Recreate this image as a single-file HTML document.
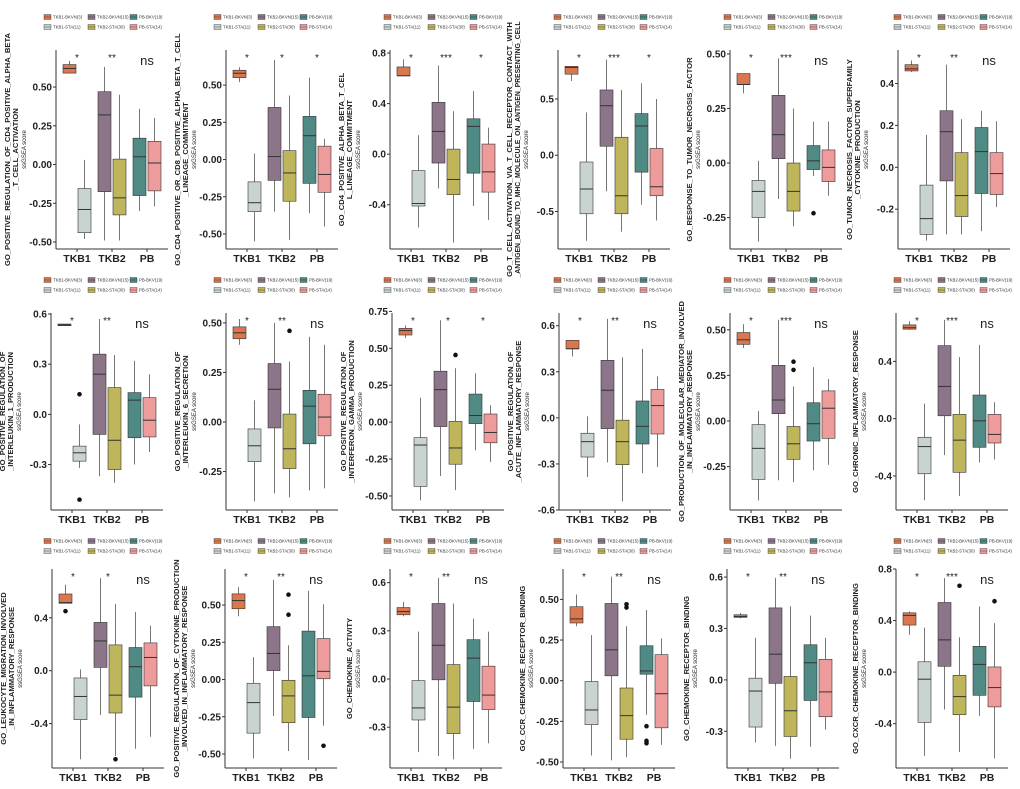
<!DOCTYPE html>
<html><head><meta charset="utf-8"><style>
html,body{margin:0;padding:0;background:#fff;}
svg{display:block;font-family:"Liberation Sans",sans-serif;}
</style></head><body>
<svg id="chart" width="1020" height="789" viewBox="0 0 1020 789" xmlns="http://www.w3.org/2000/svg"></svg>
<script>
const panelTitles = [
 ["GO_POSITIVE_REGULATION_OF_CD4_POSITIVE_ALPHA_BETA","_T_CELL_ACTIVATION"],
 ["GO_CD4_POSITIVE_OR_CD8_POSITIVE_ALPHA_BETA_T_CELL","_LINEAGE_COMMITMENT"],
 ["GO_CD4_POSITIVE_ALPHA_BETA_T_CEL","L_LINEAGE_COMMITMENT"],
 ["GO_T_CELL_ACTIVATION_VIA_T_CELL_RECEPTOR_CONTACT_WITH","_ANTIGEN_BOUND_TO_MHC_MOLECULE_ON_ANTIGEN_PRESENTING_CELL"],
 ["GO_RESPONSE_TO_TUMOR_NECROSIS_FACTOR"],
 ["GO_TUMOR_NECROSIS_FACTOR_SUPERFAMILY","_CYTOKINE_PRODUCTION"],
 ["GO_POSITIVE_REGULATION_OF","_INTERLEUKIN_1_PRODUCTION"],
 ["GO_POSITIVE_REGULATION_OF","_INTERLEUKIN_6_SECRETION"],
 ["GO_POSITIVE_REGULATION_OF","_INTERFERON_GAMMA_PRODUCTION"],
 ["GO_POSITIVE_REGULATION_OF","_ACUTE_INFLAMMATORY_RESPONSE"],
 ["GO_PRODUCTION_OF_MOLECULAR_MEDIATOR_INVOLVED","_IN_INFLAMMATORY_RESPONSE"],
 ["GO_CHRONIC_INFLAMMATORY_RESPONSE"],
 ["GO_LEUKOCYTE_MIGRATION_INVOLVED","_IN_INFLAMMATORY_RESPONSE"],
 ["GO_POSITIVE_REGULATION_OF_CYTOKINE_PRODUCTION","_INVOLVED_IN_INFLAMMATORY_RESPONSE"],
 ["GO_CHEMOKINE_ACTIVITY"],
 ["GO_CCR_CHEMOKINE_RECEPTOR_BINDING"],
 ["GO_CHEMOKINE_RECEPTOR_BINDING"],
 ["GO_CXCR_CHEMOKINE_RECEPTOR_BINDING"]
];
const panelTicks = [
 ["0.50","0.25","0.00","-0.25","-0.50"],
 ["0.50","0.25","0.00","-0.25","-0.50"],
 ["0.8","0.4","0.0","-0.4"],
 ["0.5","0.0","-0.5"],
 ["0.50","0.25","0.00","-0.25"],
 ["0.4","0.2","0.0","-0.2"],
 ["0.6","0.3","0.0","-0.3"],
 ["0.50","0.25","0.00","-0.25"],
 ["0.75","0.50","0.25","0.00","-0.25","-0.50"],
 ["0.6","0.3","0.0","-0.3","-0.6"],
 ["0.50","0.25","0.00","-0.25"],
 ["0.4","0.0","-0.4"],
 ["0.4","0.0","-0.4"],
 ["0.50","0.25","0.00","-0.25","-0.50"],
 ["0.6","0.3","0.0","-0.3"],
 ["0.50","0.25","0.00","-0.25","-0.50"],
 ["0.6","0.3","0.0","-0.3"],
 ["0.8","0.4","0.0","-0.4"]
];
const panelDomains = [
 [-0.545,0.739],[-0.601,0.736],[-0.75,0.824],[-0.833,0.935],[-0.394,0.518],[-0.39,0.56],
 [-0.572,0.606],[-0.444,0.55],[-0.595,0.739],[-0.6,0.683],[-0.488,0.592],[-0.638,0.738],
 [-0.736,0.769],[-0.594,0.742],[-0.554,0.685],[-0.537,0.687],[-0.514,0.647],[-0.744,0.8]
];
const sigLabels = [
 ["*","**","ns"],["*","*","*"],["*","***","*"],["*","***","*"],["*","***","ns"],["*","**","ns"],
 ["*","**","ns"],["*","**","ns"],["*","*","*"],["*","**","ns"],["*","***","ns"],["*","***","ns"],
 ["*","*","ns"],["*","**","ns"],["*","**","ns"],["*","**","ns"],["*","**","ns"],["*","***","ns"]
];
const categories = ["TKB1","TKB2","PB"];
const groupNames = ["TKB1-BKVN(3)","TKB1-STA(11)","TKB2-BKVN(15)","TKB2-STA(30)","PB-BKV(19)","PB-STA(14)"];
// stats per panel: 6 groups of [low whisker, q1, median, q3, high whisker]
const boxStats = [
 [[0.59,0.59,0.62,0.645,0.67],[-0.48,-0.44,-0.29,-0.155,0.03],[-0.49,-0.175,0.32,0.47,0.63],[-0.49,-0.325,-0.215,0.035,0.45],[-0.30,-0.20,0.05,0.17,0.36],[-0.27,-0.17,0.01,0.15,0.30]],
 [[0.52,0.55,0.58,0.60,0.62],[-0.55,-0.35,-0.29,-0.15,0.04],[-0.35,-0.14,0.02,0.35,0.67],[-0.54,-0.28,-0.09,0.06,0.43],[-0.36,-0.16,0.16,0.29,0.55],[-0.45,-0.22,-0.10,0.09,0.14]],
 [[0.62,0.62,0.62,0.69,0.75],[-0.58,-0.41,-0.39,-0.13,0.15],[-0.27,-0.07,0.18,0.41,0.70],[-0.70,-0.32,-0.20,0.04,0.34],[-0.41,-0.15,0.22,0.28,0.50],[-0.52,-0.30,-0.14,0.08,0.21]],
 [[0.66,0.72,0.78,0.79,0.79],[-0.76,-0.52,-0.30,-0.06,0.38],[-0.32,0.08,0.44,0.58,0.85],[-0.68,-0.52,-0.36,0.16,0.58],[-0.44,-0.15,0.26,0.37,0.64],[-0.58,-0.36,-0.28,0.06,0.50]],
 [[0.32,0.36,0.36,0.41,0.41],[-0.36,-0.25,-0.13,-0.08,0.01],[-0.165,0.02,0.13,0.31,0.48],[-0.29,-0.22,-0.13,0.00,0.25],[-0.06,-0.03,0.01,0.08,0.19],[-0.15,-0.085,-0.02,0.06,0.19]],
 [[0.455,0.46,0.47,0.49,0.51],[-0.35,-0.32,-0.245,-0.085,0.155],[-0.32,-0.065,0.17,0.27,0.49],[-0.32,-0.235,-0.135,0.07,0.23],[-0.305,-0.125,0.075,0.19,0.27],[-0.19,-0.13,-0.03,0.07,0.22]],
 [[0.53,0.53,0.535,0.54,0.54],[-0.32,-0.28,-0.23,-0.19,-0.06],[-0.37,-0.12,0.24,0.36,0.57],[-0.41,-0.33,-0.155,0.16,0.355],[-0.30,-0.14,0.085,0.13,0.32],[-0.225,-0.135,-0.035,0.10,0.24]],
 [[0.39,0.42,0.45,0.48,0.52],[-0.40,-0.20,-0.12,-0.035,0.11],[-0.36,-0.03,0.165,0.295,0.50],[-0.38,-0.235,-0.135,0.04,0.305],[-0.345,-0.11,0.08,0.16,0.43],[-0.335,-0.07,0.025,0.14,0.39]],
 [[0.57,0.59,0.62,0.635,0.655],[-0.53,-0.435,-0.155,-0.105,0.165],[-0.365,-0.03,0.22,0.345,0.69],[-0.46,-0.285,-0.175,0.005,0.365],[-0.19,-0.01,0.045,0.19,0.33],[-0.27,-0.14,-0.07,0.055,0.115]],
 [[0.40,0.45,0.45,0.505,0.505],[-0.385,-0.255,-0.155,-0.10,0.01],[-0.29,-0.07,0.18,0.375,0.645],[-0.545,-0.305,-0.155,-0.015,0.395],[-0.36,-0.17,-0.055,0.11,0.45],[-0.32,-0.105,0.08,0.185,0.27]],
 [[0.40,0.42,0.445,0.485,0.53],[-0.435,-0.32,-0.15,-0.02,0.055],[-0.325,0.04,0.115,0.305,0.555],[-0.335,-0.21,-0.125,-0.03,0.19],[-0.27,-0.11,-0.015,0.10,0.295],[-0.24,-0.095,0.07,0.165,0.23]],
 [[0.62,0.625,0.635,0.655,0.68],[-0.57,-0.385,-0.195,-0.13,0.105],[-0.255,0.02,0.225,0.51,0.69],[-0.54,-0.375,-0.15,0.03,0.43],[-0.305,-0.20,-0.015,0.165,0.515],[-0.285,-0.17,-0.11,0.03,0.115]],
 [[0.51,0.51,0.515,0.58,0.65],[-0.67,-0.37,-0.195,-0.055,0.01],[-0.335,0.025,0.225,0.365,0.70],[-0.645,-0.32,-0.185,0.195,0.505],[-0.59,-0.20,0.03,0.175,0.445],[-0.50,-0.115,0.10,0.21,0.34]],
 [[0.425,0.475,0.53,0.575,0.62],[-0.53,-0.36,-0.155,-0.025,0.15],[-0.245,0.06,0.175,0.355,0.67],[-0.48,-0.29,-0.11,-0.005,0.23],[-0.54,-0.255,0.025,0.325,0.595],[-0.31,0.005,0.055,0.275,0.505]],
 [[0.39,0.40,0.42,0.445,0.48],[-0.455,-0.255,-0.18,-0.01,0.295],[-0.48,-0.005,0.21,0.47,0.63],[-0.50,-0.34,-0.175,0.09,0.47],[-0.435,-0.14,0.13,0.245,0.375],[-0.40,-0.19,-0.10,0.08,0.295]],
 [[0.335,0.355,0.38,0.455,0.53],[-0.46,-0.27,-0.18,-0.005,0.28],[-0.49,0.03,0.19,0.475,0.64],[-0.47,-0.36,-0.215,-0.045,0.335],[-0.21,0.04,0.06,0.215,0.435],[-0.395,-0.29,-0.08,0.16,0.26]],
 [[0.36,0.365,0.37,0.38,0.39],[-0.365,-0.275,-0.065,0.01,0.245],[-0.385,-0.02,0.15,0.42,0.595],[-0.46,-0.33,-0.18,0.02,0.43],[-0.39,-0.12,0.10,0.205,0.375],[-0.29,-0.215,-0.07,0.12,0.245]],
 [[0.29,0.365,0.44,0.46,0.47],[-0.65,-0.39,-0.055,0.08,0.345],[-0.29,0.045,0.25,0.54,0.73],[-0.62,-0.33,-0.19,-0.025,0.27],[-0.34,-0.18,0.06,0.20,0.51],[-0.67,-0.27,-0.12,0.04,0.38]]
];
// outliers: [panel, group, value]
const outlierPoints = [
 [4,4,-0.23],
 [6,1,0.12],[6,1,-0.51],
 [7,3,0.46],
 [8,3,0.455],
 [10,3,0.28],[10,3,0.325],
 [12,0,0.45],[12,3,-0.67],
 [13,3,0.435],[13,3,0.57],[13,5,-0.445],
 [15,3,0.45],[15,3,0.47],[15,4,-0.28],[15,4,-0.37],[15,4,-0.385],
 [17,3,0.67],[17,5,0.55]
];
const fills = ["#d9774f","#c9d4d0","#8c7589","#bfb65c","#4f8a84","#ee9b9b"];
const panelShift = [0,0,-6,-8,-6,-8, -5,0,-4,-7,-6,-10, -4,-1,-6,-3,-9,-10];
const rowTop = [50,50,43], rowBot = [249,247,242];

const NS="http://www.w3.org/2000/svg";
const svg=document.getElementById('chart');
function mk(tag,attrs,parent){const e=document.createElementNS(NS,tag);for(const k in attrs)e.setAttribute(k,attrs[k]);(parent||svg).appendChild(e);return e;}

for(let p=0;p<18;p++){
  const row=Math.floor(p/6), col=p%6;
  const ox=col*170, oy=row*263;
  const g=mk('g',{});
  
  
  const c1=ox+77+panelShift[p];
  const cats=[c1,c1+35,c1+70];
  const axX=c1-21, axR=c1+91;
  const top=oy+rowTop[row], bot=oy+rowBot[row];
  const [d0,d1]=panelDomains[p];
  const yS=v=>top+(d1-v)/(d1-d0)*(bot-top);

  // legend
  const lg=mk('g',{},g);
  
  
  const lx=[ox+44,ox+88,ox+130], ly=[oy+(row==2?15:17), oy+(row==2?25:27)];
  for(let gi=0;gi<6;gi++){
    const ci=Math.floor(gi/2), ri=gi%2;
    const ent=mk('g',{},lg);
    
    
    mk('rect',{x:lx[ci],y:ly[ri]-2.5,width:7,height:5,fill:fills[gi],stroke:'#333','stroke-width':0.4},ent);
    mk('line',{x1:lx[ci],x2:lx[ci]+7,y1:ly[ri],y2:ly[ri],stroke:'#333','stroke-width':0.4},ent);
    const t=mk('text',{x:lx[ci]+9,y:ly[ri]+1.6,'font-size':4.3,fill:'#333'},ent);
    t.textContent=groupNames[gi];
  }

  // axes
  const ax=mk('line',{x1:axX,x2:axX,y1:top,y2:bot,stroke:'#333','stroke-width':1},g);
  
  
  const axb=mk('line',{x1:axX,x2:axR,y1:bot,y2:bot,stroke:'#333','stroke-width':1},g);
  
  
  panelTicks[p].forEach(tk=>{
    const y=yS(parseFloat(tk));
    mk('line',{x1:axX-3,x2:axX,y1:y,y2:y,stroke:'#333','stroke-width':1},g);
    const t=mk('text',{x:axX-4,y:y+3.5,'font-size':10,'font-weight':'bold','text-anchor':'end',fill:'#222'},g);
    
    
    t.textContent=tk;
  });
  categories.forEach((c,i)=>{
    mk('line',{x1:cats[i],x2:cats[i],y1:bot,y2:bot+3,stroke:'#333','stroke-width':1},g);
    const t=mk('text',{x:cats[i],y:bot+13,'font-size':10.5,'font-weight':'bold','text-anchor':'middle',fill:'#222'},g);
    
    
    t.textContent=c;
  });

  // y title
  const lines=panelTitles[p];
  const cyT=(top+bot)/2;
  const xs = lines.length==2 ? [axX-46,axX-38] : [axX-38];
  lines.forEach((ln,i)=>{
    const t=mk('text',{x:xs[i],y:cyT,'font-size':7.6,'font-weight':'bold','text-anchor':'middle',fill:'#222',transform:`rotate(-90 ${xs[i]} ${cyT})`},g);
    
    
    t.textContent=ln;
    const L=t.getComputedTextLength();
    if(L>256){t.setAttribute('textLength',256);t.setAttribute('lengthAdjust','spacingAndGlyphs');}
  });
  const st=mk('text',{x:axX-30,y:cyT,'font-size':6,'text-anchor':'middle',fill:'#222',transform:`rotate(-90 ${axX-30} ${cyT})`},g);
  
  
  st.textContent='ssGSEA score';

  // boxes
  boxStats[p].forEach((s,gi)=>{
    const ci=Math.floor(gi/2);
    const x0 = gi%2==0 ? cats[ci]-14 : cats[ci]+1;
    const xm = x0+6.5;
    const bg=mk('g',{},g);
    
    
    mk('line',{x1:xm,x2:xm,y1:yS(s[4]),y2:yS(s[3]),stroke:'#777','stroke-width':1},bg);
    mk('line',{x1:xm,x2:xm,y1:yS(s[1]),y2:yS(s[0]),stroke:'#777','stroke-width':1},bg);
    mk('rect',{x:x0,y:yS(s[3]),width:13,height:Math.max(0.6,yS(s[1])-yS(s[3])),fill:fills[gi],stroke:'#333','stroke-width':0.6},bg);
    mk('line',{x1:x0,x2:x0+13,y1:yS(s[2]),y2:yS(s[2]),stroke:'#333','stroke-width':1},bg);
  });
  outlierPoints.filter(o=>o[0]===p).forEach(o=>{
    const ci=Math.floor(o[1]/2);
    const xm=(o[1]%2==0?cats[ci]-14:cats[ci]+1)+6.5;
    const c=mk('circle',{cx:xm,cy:yS(o[2]),r:2.3,fill:'#111'},g);
    
    
  });
  // significance
  sigLabels[p].forEach((s,i)=>{
    const isNs=s==='ns';
    const t=mk('text',{x:cats[i],y:top+(isNs?15:11),'font-size':isNs?13:10,'text-anchor':'middle',fill:'#222'},g);
    
    
    t.textContent=s;
  });
}
</script>
</body></html>
